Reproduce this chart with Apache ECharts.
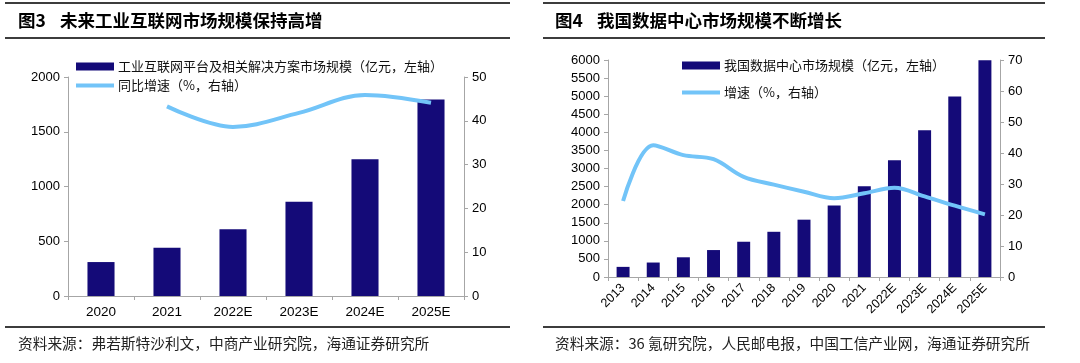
<!DOCTYPE html>
<html><head><meta charset="utf-8">
<script src="https://cdn.jsdelivr.net/npm/echarts@6/dist/echarts.min.js"></script>
<style>html,body{margin:0;padding:0;background:#fff}#c{width:1080px;height:363px}</style>
</head><body><div id="c"></div>
<script>
// Chart 1 data
const cats1 = ['2020', '2021', '2022E', '2023E', '2024E', '2025E'];
const bars1 = [310, 440, 610, 860, 1250, 1795];
const growth1 = [null, 43.3, 38.6, 41.8, 45.9, 44.1];
const name1a = '工业互联网平台及相关解决方案市场规模（亿元，左轴）';
const name1b = '同比增速（%，右轴）';
const left1Ticks = [0, 2000, 500];
const right1Ticks = [0, 50, 10];
// Chart 2 data
const cats2 = ['2013', '2014', '2015', '2016', '2017', '2018', '2019', '2020', '2021', '2022E', '2023E', '2024E', '2025E'];
const bars2 = [280, 400, 545, 745, 975, 1250, 1585, 1980, 2510, 3230, 4060, 4990, 5990];
const growth2 = [24.5, 42.5, 39.3, 38.0, 32.3, 29.8, 27.5, 25.4, 27.0, 28.8, 26.0, 23.0, 20.2];
const name2a = '我国数据中心市场规模（亿元，左轴）';
const name2b = '增速（%，右轴）';
const left2Ticks = [0, 6000, 500];
const right2Ticks = [0, 70, 10];

const title1 = '未来工业互联网市场规模保持高增';
const title2 = '我国数据中心市场规模不断增长';
const source1 = '资料来源：弗若斯特沙利文，中商产业研究院，海通证券研究所';
const source2 = '资料来源：36 氪研究院，人民邮电报，中国工信产业网，海通证券研究所';

const BAR = '#140a78';
const LINE = '#72c4f8';
const AX = '#a6a6a6';
const NUMF = '"Liberation Sans", Arial, "Noto Sans CJK SC", sans-serif';
const CJKF = '"Noto Sans CJK SC", sans-serif';

const chart = echarts.init(document.getElementById('c'));

function valAxis(gi, t, pos) {
  return {
    type: 'value', gridIndex: gi, position: pos, min: t[0], max: t[1], interval: t[2],
    axisLine: {show: true, lineStyle: {color: AX, width: 1}},
    axisTick: {show: true, length: 4, lineStyle: {color: AX}},
    splitLine: {show: false},
    axisLabel: {color: '#000', fontSize: 13, fontFamily: NUMF, margin: 8, formatter: function (v) { return String(v); }}
  };
}
function catAxis(gi, cats, rot, fs) {
  return {
    type: 'category', gridIndex: gi, data: cats,
    axisLine: {lineStyle: {color: AX, width: 1}},
    axisTick: {show: true, length: 4, alignWithLabel: false, lineStyle: {color: AX}},
    axisLabel: {color: '#000', fontSize: fs, fontFamily: NUMF, rotate: rot, margin: rot ? 9 : 10, interval: 0}
  };
}
function rule(x1, x2, y) {
  return {type: 'line', shape: {x1: x1, y1: y, x2: x2, y2: y}, style: {stroke: '#3c3c3c', lineWidth: 2}, silent: true};
}
function txt(x, y, s, font, fill) {
  return {type: 'text', x: x, y: y, style: {text: s, font: font, fill: fill || '#000', verticalAlign: 'middle'}, silent: true};
}
function leg(x, y, name, h, fs) {
  return {
    left: x, top: y, data: [{name: name, icon: 'rect'}], itemWidth: 38, itemHeight: h, itemGap: 0,
    textStyle: {fontSize: fs, fontFamily: CJKF, color: '#111', padding: [0, 0, 0, -1]}, selectedMode: false
  };
}

chart.setOption({
  animation: false,
  grid: [
    {left: 68, top: 77, width: 396, height: 219},
    {left: 608, top: 60, width: 392, height: 217}
  ],
  xAxis: [catAxis(0, cats1, 0, 13.5), catAxis(1, cats2, 45, 12.5)],
  yAxis: [valAxis(0, left1Ticks, 'left'), valAxis(0, right1Ticks, 'right'),
          valAxis(1, left2Ticks, 'left'), valAxis(1, right2Ticks, 'right')],
  legend: [
    leg(71, 55, name1a, 8, 13), leg(71, 74, name1b, 4, 13),
    leg(677, 54, name2a, 8, 13), leg(677, 81, name2b, 4, 13)
  ],
  series: [
    {name: name1a, type: 'bar', xAxisIndex: 0, yAxisIndex: 0, data: bars1, barWidth: '41%',
     itemStyle: {color: BAR}},
    {name: name1b, type: 'line', xAxisIndex: 0, yAxisIndex: 1, data: growth1, smooth: 0.35,
     symbol: 'none', lineStyle: {color: LINE, width: 4}, itemStyle: {color: LINE}},
    {name: name2a, type: 'bar', xAxisIndex: 1, yAxisIndex: 2, data: bars2, barWidth: '43%',
     itemStyle: {color: BAR}},
    {name: name2b, type: 'line', xAxisIndex: 1, yAxisIndex: 3, data: growth2, smooth: 0.35,
     symbol: 'none', lineStyle: {color: LINE, width: 4}, itemStyle: {color: LINE}}
  ],
  graphic: [
    rule(5, 510, 3), rule(5, 510, 38), rule(5, 510, 327),
    rule(543, 1045, 3), rule(543, 1045, 38), rule(543, 1045, 327),
    txt(18, 20, '图3', 'bold 17.5px ' + CJKF),
    txt(60, 20, title1, 'bold 17.5px ' + CJKF),
    txt(555, 20, '图4', 'bold 17.5px ' + CJKF),
    txt(597, 20, title2, 'bold 17.5px ' + CJKF),
    txt(18, 343, source1, '14.7px ' + CJKF, '#222'),
    txt(555, 343, source2, '14.7px ' + CJKF, '#222')
  ]
});
</script></body></html>
